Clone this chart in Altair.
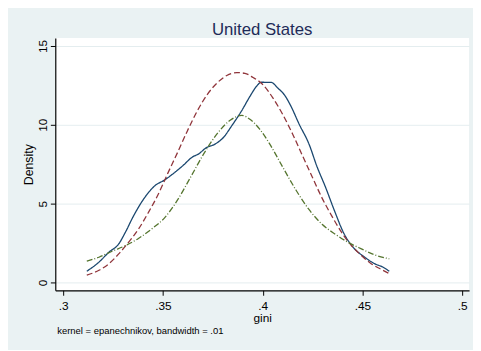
import altair as alt
import pandas as pd

# Blue solid: kernel density
kd_x = [0.3118, 0.3179, 0.3229, 0.3278, 0.3311, 0.3352, 0.3401, 0.3459, 0.3508, 0.3549,
        0.3599, 0.3648, 0.3681, 0.3714, 0.3763, 0.3804, 0.3845, 0.3895, 0.3936, 0.3969,
        0.3993, 0.4043, 0.4076, 0.4109, 0.4141, 0.4183, 0.4232, 0.4273, 0.4314, 0.4364,
        0.4405, 0.4454, 0.4512, 0.4561, 0.4602, 0.4635]
kd_y = [0.71, 1.29, 1.92, 2.44, 3.17, 4.21, 5.25, 6.13, 6.50, 6.88,
        7.40, 7.96, 8.17, 8.52, 8.79, 9.21, 9.94, 10.90, 11.80, 12.44,
        12.70, 12.69, 12.33, 11.90, 11.20, 10.04, 8.79, 7.33, 6.08, 4.42,
        3.17, 2.23, 1.60, 1.19, 0.98, 0.71]

# Red dashed
nd_x = [0.3118, 0.3179, 0.3229, 0.3278, 0.3327, 0.3377, 0.3426, 0.3475, 0.3524, 0.3574,
        0.3623, 0.3672, 0.3722, 0.3771, 0.3820, 0.3870, 0.3911, 0.3952, 0.4002, 0.4051,
        0.4100, 0.4150, 0.4199, 0.4248, 0.4298, 0.4347, 0.4396, 0.4446, 0.4495, 0.4544,
        0.4594, 0.4635]
nd_y = [0.46, 0.77, 1.19, 1.81, 2.54, 3.38, 4.42, 5.56, 6.92, 8.27,
        9.63, 10.88, 11.92, 12.65, 13.13, 13.31, 13.27, 13.00, 12.54, 11.71,
        10.67, 9.42, 8.06, 6.71, 5.35, 4.21, 3.17, 2.33, 1.71, 1.19,
        0.83, 0.56]

# Green dash-dot
gd_x = [0.3118, 0.3179, 0.3245, 0.3311, 0.3377, 0.3442, 0.3508, 0.3574, 0.3640, 0.3705,
        0.3771, 0.3837, 0.3895, 0.3936, 0.3985, 0.4035, 0.4100, 0.4166, 0.4232, 0.4298,
        0.4364, 0.4429, 0.4495, 0.4561, 0.4635]
gd_y = [1.35, 1.60, 1.98, 2.33, 2.79, 3.38, 4.10, 5.25, 6.71, 8.17,
        9.42, 10.29, 10.60, 10.35, 9.73, 8.79, 7.33, 5.88, 4.63, 3.69,
        3.06, 2.54, 2.13, 1.75, 1.50]

series_names = ["kdensity", "normal", "other"]
series_colors = ["#1A476F", "#90353B", "#55752F"]
series_dash = [[1, 0], [6, 3], [6, 2, 1, 2]]

x_ticks = [0.3, 0.35, 0.4, 0.45, 0.5]
y_ticks = [0, 5, 10, 15]
title_text = "United States"
note_text = "kernel = epanechnikov, bandwidth = .01"

rows = []
for name, xs, ys in zip(series_names, [kd_x, nd_x, gd_x], [kd_y, nd_y, gd_y]):
    for i, (a, b) in enumerate(zip(xs, ys)):
        rows.append({"series": name, "gini": a, "density": b, "order": i})
df = pd.DataFrame(rows)

x_enc = alt.X(
    "gini:Q",
    scale=alt.Scale(domain=[0.296, 0.5035], nice=False, zero=False),
    axis=alt.Axis(
        values=x_ticks, title="gini", grid=False,
        labelExpr="substring(format(datum.value, '.2~f'), 1)",
        domainColor="black", tickColor="black", tickSize=5, domainWidth=1.2,
        labelFont="Liberation Sans", labelFontSize=12, labelColor="black",
        labelBaseline="alphabetic", labelPadding=14.2,
        titleFont="Liberation Sans", titleFontSize=12, titleFontWeight="normal",
        titleColor="black", titleBaseline="alphabetic", titleY=31.5, titleX=210,
        titleAlign="center",
    ),
)
y_enc = alt.Y(
    "density:Q",
    scale=alt.Scale(domain=[-0.5, 15.5], nice=False, zero=False),
    axis=alt.Axis(
        values=y_ticks, title="Density", grid=True, gridColor="#E4EDEF", gridWidth=1,
        domainColor="black", tickColor="black", tickSize=5, domainWidth=1.2,
        labelFont="Liberation Sans", labelFontSize=12, labelColor="black",
        labelAngle=270, labelAlign="center", labelBaseline="alphabetic", labelPadding=4.3,
        titleFont="Liberation Sans", titleFontSize=12.5, titleFontWeight="normal",
        titleColor="black", titleAngle=270, titleBaseline="alphabetic",
        titleAlign="center", titleX=-23, titleY=128,
    ),
)

lines = alt.Chart(df).mark_line(strokeWidth=1.3, interpolate="monotone").encode(
    x=x_enc,
    y=y_enc,
    order="order:Q",
    color=alt.Color("series:N", scale=alt.Scale(domain=series_names, range=series_colors), legend=None),
    strokeDash=alt.StrokeDash("series:N", scale=alt.Scale(domain=series_names, range=series_dash), legend=None),
)

note = alt.Chart(pd.DataFrame({"t": [note_text]})).mark_text(
    align="left", baseline="middle", font="Liberation Sans", fontSize=9.6, color="black"
).encode(x=alt.value(2), y=alt.value(297), text="t:N")

chart = alt.layer(lines, note).properties(
    width=420,
    height=256,
    title=alt.TitleParams(
        title_text, font="Liberation Sans", fontSize=17, fontWeight="normal",
        color="#1E2B58", anchor="middle", baseline="alphabetic", offset=5, dy=19,
    ),
    padding={"left": 48, "top": 28, "right": 4, "bottom": 58},
    autosize=alt.AutoSizeParams(type="none"),
    background="#EAF2F3",
).configure_view(fill="white", stroke=None)

chart.save("out.html", embed_options={"renderer": "svg", "actions": False})
